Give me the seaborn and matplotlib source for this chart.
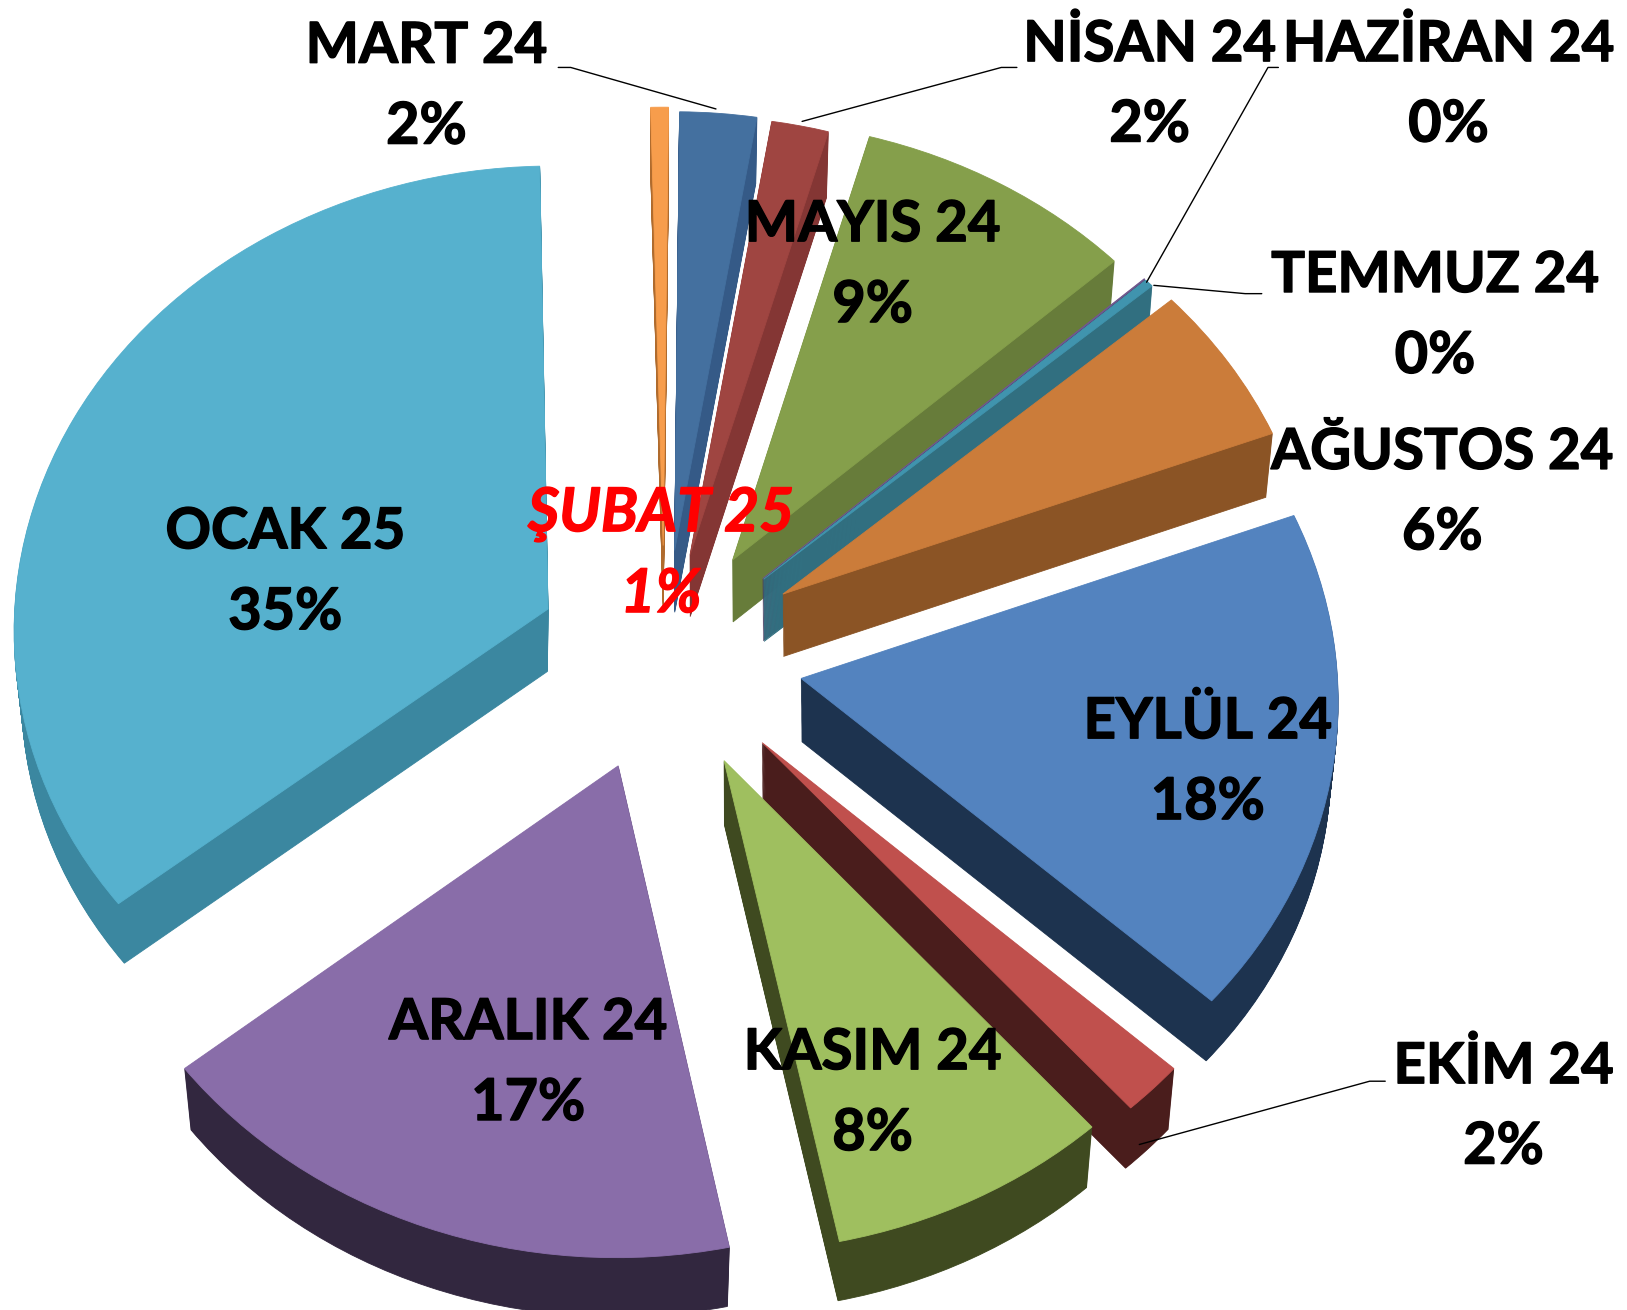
import matplotlib
matplotlib.use("Agg")
import matplotlib.pyplot as plt
import matplotlib.transforms as mtransforms
import matplotlib.patheffects as pe
from matplotlib.lines import Line2D
import numpy as np
import seaborn as sns

# ---------- data ----------
months = ["MART 24", "NİSAN 24", "MAYIS 24", "HAZİRAN 24", "TEMMUZ 24", "AĞUSTOS 24",
          "EYLÜL 24", "EKİM 24", "KASIM 24", "ARALIK 24", "OCAK 25", "ŞUBAT 25"]
shares = [2.42, 1.8, 8.89, 0.03, 0.28, 5.64, 17.55, 1.8, 8.2, 17.48, 35.35, 0.56]

# ---------- styles ----------
top_colors = ["#44709F", "#9F4541", "#859F4B", "#71588F", "#4094AE", "#CB7C3A",
              "#5383BF", "#C0504D", "#9FBF5F", "#896DA9", "#56B1CE", "#F79D4C"]
side_colors = ["#355A87", "#843634", "#677C3A", "#4A3A60", "#316F80", "#8B5425",
               "#1D334F", "#4A1D1C", "#3F4A20", "#32273F", "#3B87A0", "#B06B2D"]
explode = [0.23, 0.225, 0.245, 0.25, 0.25, 0.26, 0.26, 0.26, 0.25, 0.25, 0.24, 0.24]

sns.set_theme(style="white")
plt.rcParams["font.family"] = ["Lato", "DejaVu Sans"]

W, H = 1627, 1310
SHRINK = 1627 / 1568
CX, CY = 640 * SHRINK, 632 * SHRINK     # pie centre in pixels
SX, SY = 516 * SHRINK, 447 * SHRINK     # pixels per pie radius
PERSPECTIVE = 0.039
DEPTH = 0.135
TAPER = 0.02
START = 89.4


class Perspective(mtransforms.Transform):
    input_dims = output_dims = 2
    is_separable = False
    has_inverse = False

    def transform_non_affine(self, xy):
        xy = np.asarray(xy, dtype=float)
        w = 1 + PERSPECTIVE * xy[:, 1]
        return np.column_stack([xy[:, 0] / w, xy[:, 1] / w])


fig = plt.figure(figsize=(W / 100, H / 100), dpi=100, facecolor="white")
ax = fig.add_axes([0, 0, 1, 1])
proj = Perspective() + ax.transData


def draw(colors, t, z):
    wedges, _ = ax.pie(shares, explode=explode, colors=colors, startangle=START,
                       counterclock=False, radius=1 - TAPER * t,
                       center=(0, -DEPTH * t), frame=False,
                       wedgeprops=dict(linewidth=0.6))
    for wd in wedges:
        wd.set_edgecolor(wd.get_facecolor())
        wd.set_transform(proj)
        wd.set_zorder(z)
        wd.set_clip_on(False)


palette_top = sns.color_palette(top_colors)
palette_side = sns.color_palette(side_colors)
layers = 60
for i in range(layers):
    draw(palette_side, 1 - i / layers, 1 + i * 0.001)
draw(palette_top, 0, 2)

ax.set_aspect("auto")
ax.set_xlim(-CX / SX, (W - CX) / SX)
ax.set_ylim(-(H - CY) / SY, CY / SY)
ax.axis("off")


def fx(x):
    return x * SHRINK / W


def fy(y):
    return 1 - y * SHRINK / H


# ---------- labels (layout in reference pixels, order matching months) ----------
label_pos = [(411, 45), (1108, 43), (841, 217), (1396, 43), (1383, 266), (1390, 436),
             (1164, 696), (1449, 1028), (841, 1015), (509, 986), (275, 513), (637, 496)]
LINE_GAP = 77.5
for name, share, (lx, ly) in zip(months, shares, label_pos):
    red = name.startswith("ŞUBAT")
    col = "#FF0000" if red else "black"
    kw = dict(ha="center", va="center", fontweight="bold",
              color=col, fontstyle="italic" if red else "normal", zorder=5,
              path_effects=[pe.withStroke(linewidth=1.0, foreground=col)])
    fig.text(fx(lx), fy(ly), name, fontsize=43.5 if red else 40.6, **kw)
    fig.text(fx(lx), fy(ly + LINE_GAP), f"{round(share)}%", fontsize=43.5 if red else 41.5, **kw)

# ---------- leader lines ----------
leaders = [
    [(538, 65), (550, 65), (690, 105)],
    [(980, 65), (965, 65), (773, 117)],
    [(1232, 65), (1222, 65), (1105, 272)],
    [(1216, 283), (1200, 283), (1112, 275)],
    [(1335, 1042), (1320, 1042), (1098, 1103)],
]
for pts in leaders:
    fig.add_artist(Line2D([fx(p[0]) for p in pts], [fy(p[1]) for p in pts],
                          transform=fig.transFigure, color="black", lw=1.0, zorder=4))

fig.savefig("out.png", dpi=100, facecolor="white")
